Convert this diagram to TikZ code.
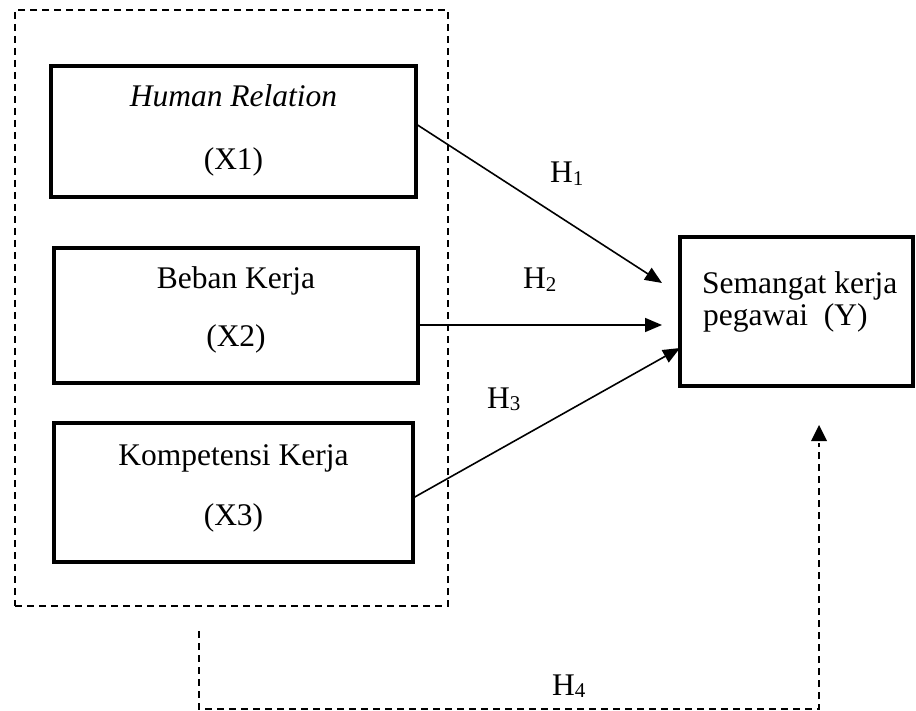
\documentclass[tikz,border=0pt]{standalone}
\usepackage{fontspec}
\setmainfont{Liberation Serif}
\usetikzlibrary{arrows.meta}
\newcommand{\hsub}[1]{\raisebox{-2.5pt}{\fontsize{21}{21}\selectfont #1}}
\tikzset{
  box/.style={draw, line width=4pt, rectangle, inner sep=0pt, outer sep=0pt},
  txt/.style={anchor=base, inner sep=0pt, font=\fontsize{31.5}{38}\selectfont},
  link/.style={line width=1.6pt, -{Triangle[length=17pt,width=14pt]}},
  dashline/.style={line width=2pt, dash pattern=on 7pt off 5pt},
}
\begin{document}
\begin{tikzpicture}[x=1pt,y=-1pt]
\useasboundingbox (0,0) rectangle (916,711);
% dashed group
\node[draw, line width=2pt, dash pattern=on 7pt off 5pt, inner sep=0pt, minimum width=433pt, minimum height=596pt] (grp) at (231.5,308) {};
% boxes
\node[box, minimum width=365pt, minimum height=131pt] (x1) at (233.5,131.5) {};
\node[box, minimum width=364pt, minimum height=135pt] (x2) at (236,315.5) {};
\node[box, minimum width=359pt, minimum height=139pt] (x3) at (233.5,492.5) {};
\node[box, minimum width=233pt, minimum height=149pt] (y) at (796.5,311.5) {};
% texts
\node[txt] (x1a) at (233.5,107) {\textit{Human Relation}};
\node[txt] (x1b) at (233.5,170) {(X1)};
\node[txt] (x2a) at (236,289) {Beban Kerja};
\node[txt] (x2b) at (236,347) {(X2)};
\node[txt] (x3a) at (233.5,465) {Kompetensi Kerja};
\node[txt] (x3b) at (233.5,525) {(X3)};
\node[txt, anchor=base west] (ya) at (702,294) {Semangat kerja};
\node[txt, anchor=base west] (yb) at (703,326) {pegawai\ \ (Y)};
% labels
\node[txt, anchor=base west] (h1) at (550,183) {H\hsub{1}};
\node[txt, anchor=base west] (h2) at (523,289) {H\hsub{2}};
\node[txt, anchor=base west] (h3) at (487,408) {H\hsub{3}};
\node[txt, anchor=base west] (h4) at (552,695) {H\hsub{4}};
% arrows
\coordinate (t1) at (662,283);
\coordinate (t2) at (662,325);
\draw[link] ([yshift=7.5pt]x1.east) -- (t1);
\draw[link] ([yshift=-9.5pt]x2.east) -- (t2);
\draw[link] ([yshift=-5.5pt]x3.east) -- ([yshift=-36.5pt]y.west);
% H4 dashed path
\coordinate (d0) at (199,631);
\coordinate (d1) at (199,709);
\coordinate (d2) at (819,709);
\coordinate (d3) at (819,443);
\coordinate (d4) at (819,425);
\draw[dashline] (d0) -- (d1) -- (d2) -- (d3);
\fill (d4) -- ++(-8,16) -- ++(16,0) -- cycle;
\end{tikzpicture}
\end{document}
